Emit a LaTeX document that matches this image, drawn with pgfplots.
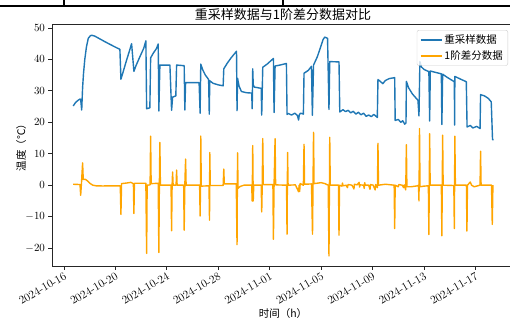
\documentclass[border=0pt]{standalone}
\usepackage{fontspec}
\usepackage{pgfplots}
\pgfplotsset{compat=1.18}
\newfontfamily\cjk{Noto Sans CJK SC}
\definecolor{mplblue}{HTML}{1F77B4}
\definecolor{mplorange}{HTML}{FFA500}

\pgfplotstableread{
x y
0.72 25.2
0.90 26.3
1.10 27.0
1.25 27.4
1.30 27.2
1.38 23.9
1.45 31.0
1.52 35.5
1.62 40.0
1.75 44.0
1.89 46.7
2.05 47.5
2.15 47.7
2.40 47.4
2.80 46.5
3.20 45.6
3.57 44.8
4.00 43.9
4.35 43.2
4.43 33.7
4.60 36.0
4.85 39.5
5.10 42.8
5.26 45.0
5.44 36.2
5.60 38.0
5.90 40.8
6.20 43.5
6.37 45.9
6.43 24.3
6.68 24.6
6.74 40.5
6.95 42.0
7.20 43.5
7.33 44.9
7.38 23.6
7.46 38.2
8.24 38.2
8.37 23.8
8.45 28.0
8.70 28.4
8.76 38.2
9.35 38.0
9.40 23.9
9.46 32.6
10.51 32.6
10.59 22.9
10.64 38.5
10.80 36.6
11.00 35.0
11.25 33.6
11.30 22.6
11.34 33.2
11.60 32.4
12.00 31.9
12.38 31.6
12.43 37.0
12.70 38.8
13.00 40.5
13.42 42.6
13.46 23.7
13.50 34.0
13.62 31.5
13.80 29.8
14.20 29.4
14.60 29.3
14.64 24.3
14.68 37.0
14.72 32.0
14.80 31.2
15.34 30.8
15.38 22.3
15.46 37.5
15.80 38.5
16.29 40.3
16.34 23.1
16.42 37.9
16.80 38.2
17.30 38.7
17.35 22.5
17.45 22.8
17.70 22.3
17.95 22.9
18.15 22.2
18.25 20.7
18.30 22.4
18.40 22.9
18.62 22.6
18.67 35.6
19.00 36.5
19.25 37.8
19.32 22.2
19.41 38.2
19.70 40.8
19.95 43.8
20.15 46.3
20.28 47.1
20.50 46.7
20.61 24.1
20.67 39.3
21.39 39.2
21.45 23.3
21.70 24.0
21.90 23.4
22.10 23.8
22.30 23.0
22.50 23.5
22.70 22.6
22.90 23.2
23.10 22.4
23.30 22.9
23.50 21.9
23.70 22.3
23.90 21.8
24.10 22.5
24.30 21.8
24.37 21.5
24.42 33.6
24.60 33.0
24.80 32.3
25.00 33.3
25.30 33.9
25.72 34.2
25.76 20.6
26.00 20.9
26.20 20.0
26.35 20.5
26.50 19.4
26.60 19.8
26.63 33.0
26.80 31.0
27.10 29.0
27.53 27.0
27.61 22.0
27.68 39.3
27.80 37.6
28.00 36.8
28.38 36.1
28.44 20.4
28.49 36.3
29.35 35.4
29.39 19.3
29.45 35.3
29.80 34.3
30.36 32.9
30.38 19.1
30.40 34.6
30.80 33.8
31.29 32.9
31.35 18.5
31.60 19.0
31.80 18.2
32.10 18.7
32.36 18.0
32.40 28.8
32.70 28.4
33.00 27.6
33.23 26.5
33.33 14.5
33.41 14.5
}\resampled

\pgfplotstableread{
x y
0.72 0.3
1.25 0.2
1.30 -3.2
1.36 0.5
1.45 7.1
1.50 1.8
1.65 1.9
1.85 1.3
2.05 0.5
2.25 0.0
2.50 -0.2
3.00 -0.25
4.00 -0.2
4.38 -0.2
4.43 -9.3
4.48 0.5
4.90 0.7
5.20 0.9
5.40 0.5
5.44 -9.0
5.48 0.6
6.00 0.6
6.37 0.6
6.43 -21.7
6.47 0.0
6.70 0.1
6.74 15.6
6.78 0.5
7.33 0.6
7.38 -21.4
7.42 0.0
7.46 13.6
7.50 0.0
8.33 0.0
8.37 -14.5
8.41 0.0
8.45 4.2
8.49 0.0
8.72 0.0
8.76 4.8
8.80 0.0
9.31 0.0
9.35 -14.3
9.40 0.0
9.46 8.3
9.50 0.0
10.55 0.0
10.59 -9.8
10.62 0.0
10.64 15.6
10.68 -0.3
11.28 -0.2
11.32 -11.1
11.34 10.4
11.38 -0.1
12.38 -0.1
12.43 5.1
12.47 0.4
13.40 0.4
13.46 -18.9
13.50 10.3
13.54 -1.0
13.70 -0.4
14.00 0.0
14.60 0.0
14.64 -5.1
14.68 12.6
14.72 -5.0
14.76 0.0
15.34 0.0
15.38 -8.5
15.42 0.0
15.46 14.8
15.50 0.2
16.25 0.2
16.29 -17.2
16.34 0.0
16.42 14.8
16.46 0.1
17.31 0.0
17.35 -15.6
17.39 10.4
17.43 0.0
18.00 0.1
18.25 -2.1
18.29 0.0
18.33 -2.0
18.37 0.5
18.62 0.0
18.67 13.0
18.71 0.3
19.25 0.4
19.33 -15.6
19.41 16.8
19.45 0.5
20.00 0.8
20.30 0.5
20.55 0.0
20.61 -22.5
20.67 15.2
20.71 0.0
21.35 0.0
21.39 -15.9
21.43 0.0
21.62 -0.3
21.66 0.7
21.70 -0.2
21.95 0.0
22.05 -0.8
22.09 0.2
22.40 0.0
22.55 -1.2
22.59 0.3
22.80 0.1
22.95 0.9
22.99 -0.6
23.03 0.1
23.30 0.0
23.35 -1.0
23.39 0.8
23.43 0.0
23.70 0.0
23.80 -1.3
23.84 0.2
24.05 0.0
24.20 -1.5
24.24 0.2
24.38 -0.8
24.42 13.3
24.46 0.0
25.00 0.3
25.68 0.0
25.72 -13.8
25.76 0.0
26.00 -0.5
26.04 0.2
26.30 0.0
26.42 -0.8
26.46 0.1
26.58 -1.5
26.63 12.9
26.67 -0.5
27.00 -0.5
27.50 -0.2
27.57 0.0
27.61 -5.0
27.65 18.0
27.69 -0.5
28.00 -0.3
28.34 -0.2
28.38 -15.7
28.44 16.4
28.48 0.0
29.35 0.0
29.39 -16.1
29.45 15.9
29.49 0.0
30.32 -0.1
30.36 -13.8
30.40 15.6
30.44 0.0
31.30 0.0
31.34 -14.6
31.38 0.0
31.60 1.0
31.70 0.0
31.90 -0.5
32.36 0.0
32.40 10.8
32.44 0.0
33.25 0.0
33.31 -12.5
33.36 0.0
}\diffdata

\begin{document}
\begin{tikzpicture}
\begin{axis}[name=ax, scale only axis, width=462pt, height=241.5pt,
 xmin=-0.93, xmax=35.0, ymin=-25.7, ymax=51.1,
 xtick={0,4,...,32},
 xticklabels={2024-10-16,2024-10-20,2024-10-24,2024-10-28,2024-11-01,2024-11-05,2024-11-09,2024-11-13,2024-11-17},
 xticklabel style={rotate=30, anchor=north east, font=\fontsize{11.5}{13}\selectfont, inner sep=1.5pt},
 ytick={-20,-10,...,50},
 yticklabel style={font=\fontsize{11}{13}\selectfont},
 tick align=outside, tick pos=left, major tick length=3.5pt,
 tick style={black!85, line width=0.8pt},
 axis line style={line width=0.8pt, black!85},
 title={\cjk 重采样数据与1阶差分数据对比},
 title style={at={(axis description cs:0.5,1.0)}, anchor=base, yshift=-1.3pt, font=\fontsize{13}{15}\selectfont},
 xlabel={\cjk 时间（h）},
 xlabel style={at={(axis description cs:0.5,-0.215)}, anchor=base, font=\fontsize{10.5}{12}\selectfont},
 ylabel={\cjk 温度（℃）},
 ylabel style={at={(axis description cs:-0.067,0.5)}, anchor=center, font=\fontsize{10.5}{12}\selectfont},
 legend style={at={(axis description cs:0.987,0.977)}, anchor=north east, draw=black!20, rounded corners=2pt, fill=white, fill opacity=0.8, draw opacity=1, text opacity=1, font=\cjk\fontsize{10.5}{12}\selectfont, row sep=1.5pt, inner xsep=3pt, inner ysep=2.5pt},
 legend cell align=left,
 legend image code/.code={\draw[#1, line width=1.5pt, opacity=1] (0pt,0pt) -- (21pt,0pt);},
]
\addplot[mplblue, line width=1.4pt, line join=round] table[x=x, y=y] {\resampled};
\addlegendentry{重采样数据}
\addplot[mplorange, line width=1.4pt, line join=round] table[x=x, y=y] {\diffdata};
\addlegendentry{1阶差分数据}
\end{axis}
\draw[line width=1.2pt] ([shift={(-52pt,18.5pt)}]ax.north west) -- ([shift={(458pt,18.5pt)}]ax.north west);
\draw[line width=1.2pt] ([shift={(12pt,18.5pt)}]ax.north west) -- ([shift={(12pt,25pt)}]ax.north west);
\draw[line width=1.2pt] ([shift={(231pt,18.5pt)}]ax.north west) -- ([shift={(231pt,25pt)}]ax.north west);
\pgfresetboundingbox
\useasboundingbox ([shift={(-52pt,-54.3pt)}]ax.south west) rectangle ([shift={(458pt,24.5pt)}]ax.north west);
\end{tikzpicture}
\end{document}
